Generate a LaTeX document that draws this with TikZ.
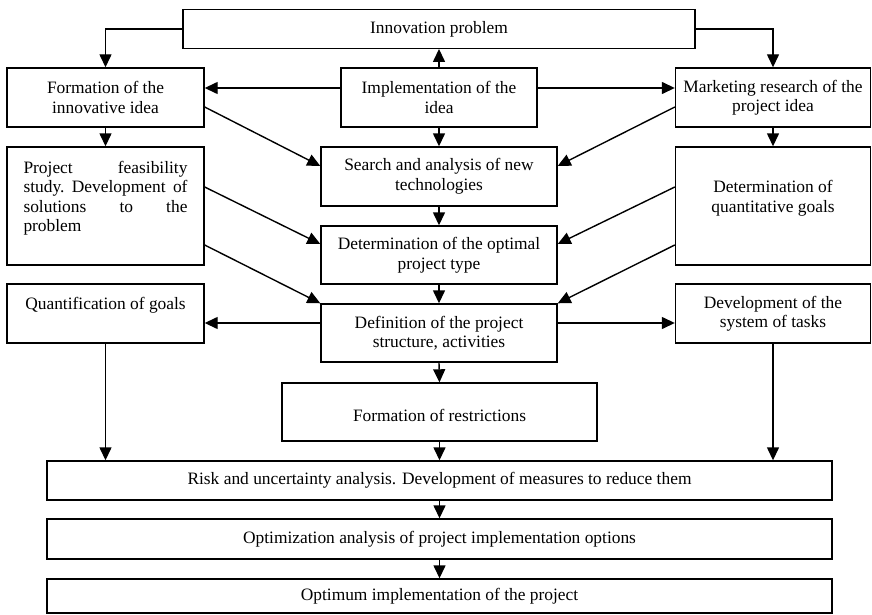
\documentclass[tikz,border=0pt]{standalone}
\usepackage{fontspec}
\setmainfont{Liberation Serif}
\usetikzlibrary{arrows.meta}

\tikzset{
  box/.style={draw, line width=1.4pt, inner sep=0pt, align=center,
    font=\fontsize{17.4}{19.5}\selectfont},
  arr/.style={line width=1.4pt, -{Triangle[length=13pt,width=12pt]}}
}

\begin{document}
\begin{tikzpicture}[x=1pt,y=-1pt]
\useasboundingbox (0,0) rectangle (872,615);

% top row
\node[box, minimum width=512pt, minimum height=38.5pt] (inno) at (439,29) {Innovation problem};
\node[box, minimum width=197pt, minimum height=59pt] (form) at (105.5,97.5) {Formation of the\\ innovative idea};
\node[box, minimum width=196pt, minimum height=59pt] (impl) at (439,97.5) {Implementation of the\\ idea};
\node[box, minimum width=195pt, minimum height=59pt] (mark) at (773,97.5) {Marketing research of the\\ project idea};

% second and third rows
\node[box, minimum width=197pt, minimum height=118pt, text width=164pt, align=left] (feas) at (105.5,206)
  {Project\hfill feasibility\\ study.\hfill Development\hfill of\\ solutions\hfill to\hfill the\\ problem\\ \mbox{}};
\node[box, minimum width=236pt, minimum height=59pt] (srch) at (439,176.5) {Search and analysis of new\\ technologies};
\node[box, minimum width=195pt, minimum height=118pt] (quant) at (773,206) {Determination of\\ quantitative goals\\ \mbox{}};
\node[box, minimum width=236pt, minimum height=58pt] (otype) at (439,255) {Determination of the optimal\\ project type};

% fourth row
\node[box, minimum width=197pt, minimum height=59pt] (qgoal) at (105.5,313.5) {Quantification of goals\\ \mbox{}};
\node[box, minimum width=236pt, minimum height=58pt] (defn) at (439,333) {Definition of the project\\ structure, activities};
\node[box, minimum width=195pt, minimum height=59pt] (tasks) at (773,313.5) {Development of the\\ system of tasks};
\node[box, minimum width=315pt, minimum height=58pt] (restr) at (439.5,412) {\mbox{}\\ Formation of restrictions};

% bottom chain
\node[box, minimum width=785pt, minimum height=39pt] (risk) at (439.5,480.5) {Risk and uncertainty analysis. Development of measures to reduce them};
\node[box, minimum width=785pt, minimum height=40pt] (optan) at (439.5,539) {Optimization analysis of project implementation options};
\node[box, minimum width=785pt, minimum height=34pt] (optim) at (439.5,596) {Optimum implementation of the project};

% connectors
\draw[arr] (inno.west) -| (form.north);
\draw[arr] (inno.east) -| (mark.north);
\draw[arr] (impl.north) -- (inno.south);
\draw[arr] ([yshift=9.5pt]impl.west) -- ([yshift=9.5pt]form.east);
\draw[arr] ([yshift=9.5pt]impl.east) -- ([yshift=9.5pt]mark.west);

\draw[arr] (form.south) -- (feas.north);
\draw[arr] (impl.south) -- (srch.north);
\draw[arr] (mark.south) -- (quant.north);
\draw[arr] ([yshift=-9.5pt]form.east) -- ([yshift=10.5pt]srch.west);
\draw[arr] ([yshift=-9.5pt]mark.west) -- ([yshift=10.5pt]srch.east);

\draw[arr] (srch.south) -- (otype.north);
\draw[arr] ([yshift=19pt]feas.east) -- ([yshift=11pt]otype.west);
\draw[arr] ([yshift=19pt]quant.west) -- ([yshift=11pt]otype.east);
\draw[arr] ([yshift=-39pt]feas.east) -- (defn.north west);
\draw[arr] ([yshift=-39pt]quant.west) -- (defn.north east);

\draw[arr] (otype.south) -- (defn.north);
\draw[arr] ([yshift=10pt]defn.west) -- ([yshift=-9.5pt]qgoal.east);
\draw[arr] ([yshift=10pt]defn.east) -- ([yshift=-9.5pt]tasks.west);
\draw[arr] (defn.south) -- (restr.north);

\draw[arr] (qgoal.south) -- (qgoal.south |- risk.north);
\draw[arr] (tasks.south) -- (tasks.south |- risk.north);
\draw[arr] (restr.south) -- (risk.north);
\draw[arr] (risk.south) -- (optan.north);
\draw[arr] (optan.south) -- (optim.north);
\end{tikzpicture}
\end{document}
